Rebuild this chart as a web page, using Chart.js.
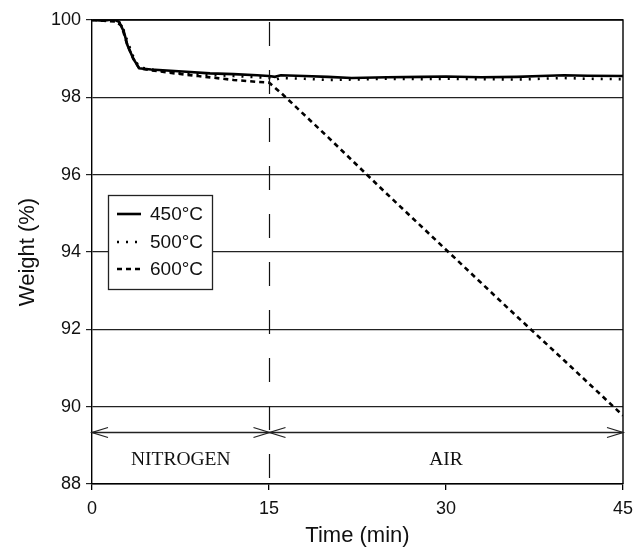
<!DOCTYPE html>
<html>
<head>
<meta charset="utf-8">
<script src="https://cdn.jsdelivr.net/npm/chart.js@4"></script>
<style>
  html, body { margin: 0; padding: 0; background: #fff; }
  #wrap { width: 644px; height: 547px; }
</style>
</head>
<body>
<div id="wrap"><canvas id="tga_chart"></canvas></div>
<script>
// time (min) and weight (%)
const time450 = [0, 1, 1.8, 2.3, 2.7, 3, 3.5, 4, 5, 6, 8, 10, 12, 14, 15, 15.5, 16, 18, 20, 22, 25, 28, 30, 33, 36, 38, 40, 42, 45];
const weight450 = [100, 99.98, 100.02, 99.95, 99.7, 99.35, 99.0, 98.75, 98.72, 98.7, 98.66, 98.62, 98.6, 98.57, 98.55, 98.53, 98.57, 98.55, 98.53, 98.5, 98.52, 98.53, 98.54, 98.52, 98.53, 98.55, 98.57, 98.56, 98.55];

const time500 = [0, 1, 2, 2.5, 3, 3.5, 4, 5, 6, 8, 10, 12, 14, 15, 15.5, 16, 18, 20, 22, 25, 28, 30, 33, 36, 38, 40, 42, 45];
const weight500 = [100, 99.99, 99.98, 99.9, 99.45, 99.05, 98.78, 98.72, 98.68, 98.62, 98.58, 98.55, 98.52, 98.5, 98.45, 98.5, 98.48, 98.45, 98.46, 98.48, 98.47, 98.48, 98.47, 98.46, 98.48, 98.5, 98.48, 98.47];

const time600 = [0, 1, 2, 2.5, 3, 3.5, 4, 5, 7, 9, 12, 14, 15, 16, 20, 25, 30, 35, 40, 45];
const weight600 = [100, 99.98, 99.96, 99.85, 99.35, 99.0, 98.75, 98.7, 98.62, 98.55, 98.45, 98.4, 98.38, 98.12, 96.97, 95.5, 94.06, 92.62, 91.2, 89.77];

const yTicks = [88, 90, 92, 94, 96, 98, 100];
const xTicks = [0, 15, 30, 45];
const seriesNames = ["450\u00B0C", "500\u00B0C", "600\u00B0C"];
const switchTime = 15;
const arrowLevel = 89.35;

function pts(xs, ys) {
    return xs.map((x, i) => ({ x: x, y: ys[i] }));
}

const dashes = [[], [2, 7], [5, 4]];

const overlay = {
    id: 'overlay',
    afterDraw(chart) {
        const ctx = chart.ctx;
        const a = chart.chartArea;
        const xs = chart.scales.x;
        const ys = chart.scales.y;
        ctx.save();
        // frame top and right
        ctx.strokeStyle = '#000';
        ctx.lineWidth = 1.4;
        ctx.beginPath();
        ctx.moveTo(a.left, a.top);
        ctx.lineTo(a.right, a.top);
        ctx.lineTo(a.right, a.bottom);
        ctx.stroke();

        // gas switch line
        const sx = Math.round(xs.getPixelForValue(switchTime)) + 0.5;
        ctx.lineWidth = 1.2;
        ctx.strokeStyle = '#111';
        ctx.setLineDash([24, 24]);
        ctx.beginPath();
        ctx.moveTo(sx, a.top + 2);
        ctx.lineTo(sx, a.bottom);
        ctx.stroke();
        ctx.setLineDash([]);

        // arrows
        const ay = Math.round(ys.getPixelForValue(arrowLevel)) + 0.5;
        const x0 = xs.getPixelForValue(0), x1 = xs.getPixelForValue(45);
        ctx.strokeStyle = '#222';
        ctx.lineWidth = 1.3;
        ctx.beginPath();
        ctx.moveTo(x0, ay); ctx.lineTo(x1, ay);
        ctx.stroke();
        function head(x, dir) {
            ctx.beginPath();
            ctx.moveTo(x - dir * 16, ay - 5);
            ctx.lineTo(x, ay);
            ctx.lineTo(x - dir * 16, ay + 5);
            ctx.stroke();
        }
        head(x0, -1); head(sx, 1); head(sx, -1); head(x1, 1);

        ctx.fillStyle = '#111';
        ctx.font = '19.5px "Liberation Serif"';
        ctx.textAlign = 'center';
        ctx.textBaseline = 'middle';
        ctx.fillText('NITROGEN', (x0 + sx) / 2, ay + 27);
        ctx.fillText('AIR', xs.getPixelForValue(30), ay + 27);

        // legend box
        ctx.fillStyle = '#fff';
        ctx.fillRect(108, 195, 105, 95);
        ctx.strokeStyle = '#222';
        ctx.lineWidth = 1.3;
        ctx.strokeRect(108.5, 195.5, 104, 94);
        const rows = [214, 242, 269];
        ctx.font = '19px "Liberation Sans"';
        ctx.textAlign = 'left';
        for (let i = 0; i < 3; i++) {
            ctx.strokeStyle = '#000';
            ctx.lineWidth = 2.6;
            ctx.setLineDash(dashes[i]);
            ctx.beginPath();
            ctx.moveTo(117, rows[i]);
            ctx.lineTo(141, rows[i]);
            ctx.stroke();
            ctx.setLineDash([]);
            ctx.fillStyle = '#111';
            ctx.fillText(seriesNames[i], 150, rows[i] + 1);
        }
        ctx.restore();
    }
};

function makeSet(label, data, dash) {
    return {
        label: label,
        data: data,
        borderColor: '#000',
        borderWidth: 2.6,
        borderDash: dash,
        pointRadius: 0,
        tension: 0,
        fill: false
    };
}

const config = {
    type: 'line',
    data: {
        datasets: [
            makeSet(seriesNames[0], pts(time450, weight450), dashes[0]),
            makeSet(seriesNames[1], pts(time500, weight500), dashes[1]),
            makeSet(seriesNames[2], pts(time600, weight600), dashes[2])
        ]
    },
    options: {
        responsive: true,
        maintainAspectRatio: false,
        animation: false,
        layout: { padding: { top: 20, right: 21, left: 0, bottom: 0 } },
        plugins: {
            legend: { display: false },
            tooltip: { enabled: false }
        },
        scales: {
            x: {
                type: 'linear',
                min: 0,
                max: 45,
                afterFit(scale) { scale.height = 63; },
                afterBuildTicks(scale) { scale.ticks = xTicks.map(v => ({ value: v })); },
                grid: { drawOnChartArea: false, drawTicks: true, tickLength: 6, color: '#000', lineWidth: 1.3 },
                border: { display: true, color: '#000', width: 1.4 },
                ticks: { color: '#111', font: { family: 'Liberation Sans', size: 18 }, padding: 8, maxRotation: 0 },
                title: {
                    display: true,
                    text: 'Time (min)',
                    color: '#111',
                    font: { family: 'Liberation Sans', size: 22, lineHeight: 1 },
                    padding: { top: 0, bottom: 0 }
                }
            },
            y: {
                min: 88,
                max: 100,
                afterFit(scale) { scale.width = 92; },
                afterBuildTicks(scale) { scale.ticks = yTicks.map(v => ({ value: v })); },
                grid: { drawOnChartArea: true, drawTicks: true, tickLength: 6, color: '#222', lineWidth: 1.2 },
                border: { display: true, color: '#000', width: 1.4 },
                ticks: { color: '#111', font: { family: 'Liberation Sans', size: 18 }, padding: 5 },
                title: {
                    display: true,
                    text: 'Weight (%)',
                    color: '#111',
                    font: { family: 'Liberation Sans', size: 22, lineHeight: 1 },
                    padding: { top: 17, bottom: 0 }
                }
            }
        }
    },
    plugins: [overlay]
};

const myChart = new Chart(document.getElementById('tga_chart'), config);
</script>
</body>
</html>
